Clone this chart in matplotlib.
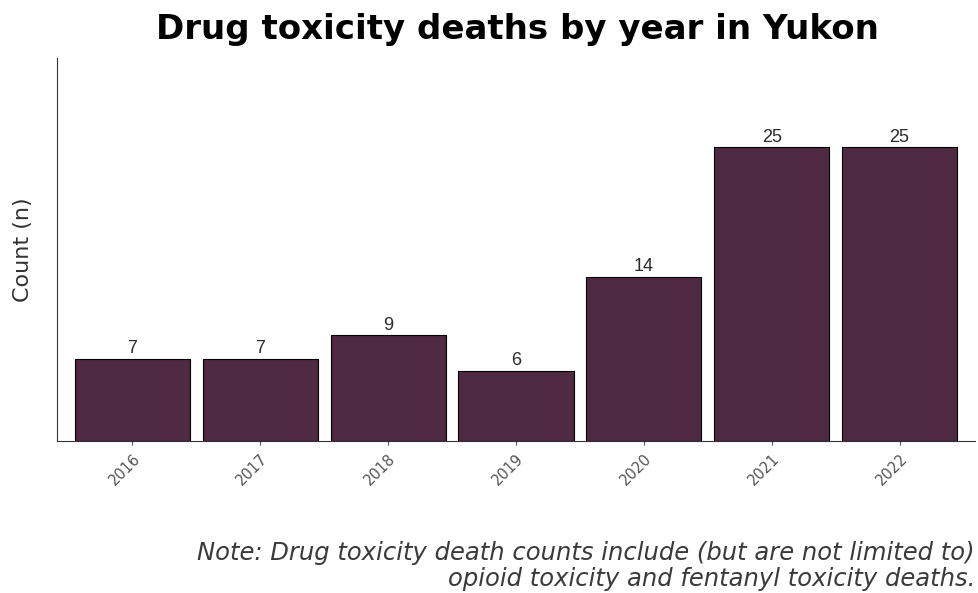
import numpy as np
import matplotlib.pyplot as plt

years = ['2016', '2017', '2018', '2019', '2020', '2021', '2022']
deaths = [7, 7, 9, 6, 14, 25, 25]

plt.rcParams['font.family'] = ['DejaVu Sans']

fig = plt.figure(figsize=(9.79, 5.93), dpi=100)
ax = fig.add_axes([57/979, 1 - 441/593, (975-57)/979, (441-58)/593])

x = np.arange(len(years))
bars = ax.bar(x, deaths, width=0.9, color='#502942', edgecolor='black', linewidth=0.8)
for xi, v in zip(x, deaths):
    ax.text(xi, v + 0.15, str(v), ha='center', va='bottom', fontsize=13,
            color='#2b2b2b', family='Liberation Sans')

ax.set_xlim(-0.59, 6.59)
ax.set_ylim(0, 32.6)
ax.set_xticks(x)
ax.set_xticklabels(years, rotation=45, fontsize=10.5, color='#555555',
                   ha='right', va='top', rotation_mode='anchor')
ax.tick_params(axis='x', length=3, color='#555555', pad=4)
ax.set_yticks([])
ax.set_ylabel('Count (n)', fontsize=16, color='#333333', labelpad=17)
for s in ['top', 'right']:
    ax.spines[s].set_visible(False)
ax.spines['left'].set_color('#333333')
ax.spines['bottom'].set_color('#333333')

fig.text(517/979, 1 - 30/593, 'Drug toxicity deaths by year in Yukon', ha='center', va='center',
         fontsize=24.5, fontweight='bold', color='black')
fig.text(975/979, 1 - 553/593, 'Note: Drug toxicity death counts include (but are not limited to)',
         ha='right', va='center', fontsize=17.5, style='italic', color='#3a3a3a')
fig.text(975/979, 1 - 579/593, 'opioid toxicity and fentanyl toxicity deaths.',
         ha='right', va='center', fontsize=17.5, style='italic', color='#3a3a3a')

fig.savefig('out.png', dpi=100)
